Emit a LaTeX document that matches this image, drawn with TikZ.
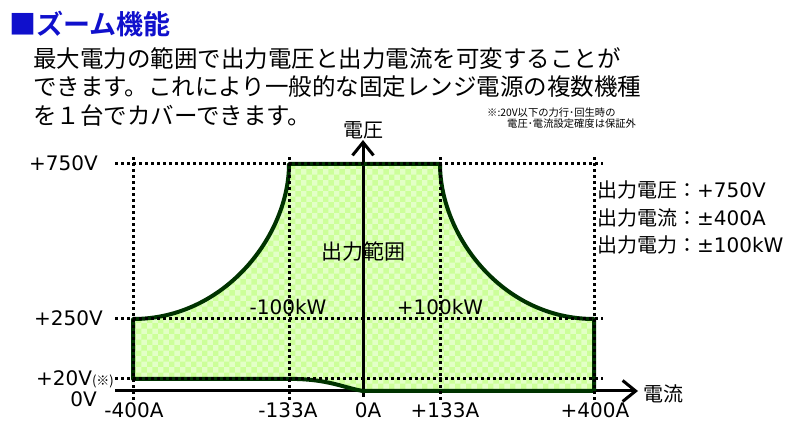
\documentclass[tikz,border=0pt]{standalone}
\usepackage{fontspec}
\setmainfont{DejaVu Sans}
\newfontfamily\jp{Noto Sans CJK JP}[BoldFont={Noto Sans CJK JP Bold}]
\usetikzlibrary{arrows.meta,positioning,patterns}
\definecolor{titleblue}{RGB}{16,16,204}
\definecolor{rangeline}{RGB}{0,51,0}
\definecolor{rangegreen}{RGB}{204,255,153}
\tikzset{
>={Straight Barb[length=13pt,width=21pt]},
  axisline/.style={
    draw, line width=3pt, ->},
  dotline/.style={
    draw, line width=3pt,
    dash pattern=on 3pt off 3pt},
  rangebox/.style={
    draw=rangeline, line width=4pt, line join=round},
  rangefill/.style={
    fill=rangegreen!55,
    postaction={pattern=checkerboard, pattern color=rangegreen}},
  titletext/.style={
    anchor=west, inner sep=0pt, text=titleblue,
    font=\jp\bfseries\fontsize{27}{27}\selectfont},
  introtext/.style={
    anchor=north west, inner sep=0pt, align=left,
    font=\jp\fontsize{23.5}{28.5}\selectfont},
  notetext/.style={
    anchor=west, inner sep=0pt,
    font=\jp\fontsize{10.3}{12}\selectfont},
  vlabel/.style={
    anchor=base east, inner sep=0pt,
    font=\fontsize{20}{20}\selectfont},
  alabel/.style={
    anchor=base, inner sep=0pt,
    font=\fontsize{20}{20}\selectfont},
  jlabel/.style={
    inner sep=0pt, font=\jp\fontsize{20}{20}\selectfont},
  spectext/.style={
    anchor=north west, inner sep=0pt, align=left,
    font=\fontsize{20}{27.5}\selectfont},
}

\begin{document}
\begin{tikzpicture}[x=1pt,y=1pt]
\useasboundingbox (0,0) rectangle (795,422);

\node[titletext] (title) at (9,398) {■ズーム機能};
\node[introtext] (intro) at (33,375) {最大電力の範囲で出力電圧と出力電流を可変することが\\
できます。これにより一般的な固定レンジ電源の複数機種\\
を１台でカバーできます。};
\node[notetext] (note1) at (487,309) {※:20V以下の力行･回生時の};
\node[notetext, anchor=north west] (note2) at ([xshift=20pt,yshift=-1pt]note1.south west) {電圧･電流設定確度は保証外};

% axes
\coordinate (xstart) at (115,31);
\coordinate (xtip) at (638,31);
\coordinate (ybot) at (363,25);
\coordinate (ytip) at (363,282);

% operating range
\def\rangeshape{(133,43) -- (133,103)
  .. controls (225,103) and (289,187) .. (289,258) -- (440,258)
  .. controls (440,187) and (502,103) .. (594,103) -- (594,31) -- (363,31)
  .. controls (345,34) and (330,42) .. (297,43) -- cycle}
\path[rangefill] \rangeshape;
\draw[axisline] (xstart) -- (xtip);
\draw[axisline] (ybot) -- (ytip);
\draw[rangebox] \rangeshape;

\foreach \xv in {133,289,440,594}
  \draw[dotline] (\xv,22) -- (\xv,266);
\foreach \yv in {258,103,43}
  \draw[dotline] (115,\yv) -- (603,\yv);

% voltage labels
\node[vlabel] (v750) at (98,251) {+750V};
\node[vlabel] (v250) at (103,96) {+250V};
\node[vlabel] (v20) at (114,36) {+20V{\jp\fontsize{13}{13}\selectfont(※)}};
\node[vlabel] (v0) at (97,15) {0V};

% current labels
\node[alabel] (im400) at (134,4) {-400A};
\node[alabel] (im133) at (288,4) {-133A};
\node[alabel] (i0) at (368,4) {0A};
\node[alabel] (ip133) at (445,4) {+133A};
\node[alabel] (ip400) at (595,4) {+400A};

\node[alabel] (pm100) at (288,107) {-100kW};
\node[alabel] (pp100) at (440,107) {+100kW};
\node[jlabel, font=\jp\fontsize{21}{21}\selectfont] (range) at (363,170) {出力範囲};

\node[jlabel, above=1pt of ytip] (vname) {電圧};
\node[jlabel, right=5pt of xtip, yshift=-3pt] (iname) {電流};

\node[spectext] (spec) at (597,241) {{\jp 出力電圧：}+750V\\
{\jp 出力電流：}±400A\\
{\jp 出力電力：}±100kW};

\end{tikzpicture}
\end{document}
